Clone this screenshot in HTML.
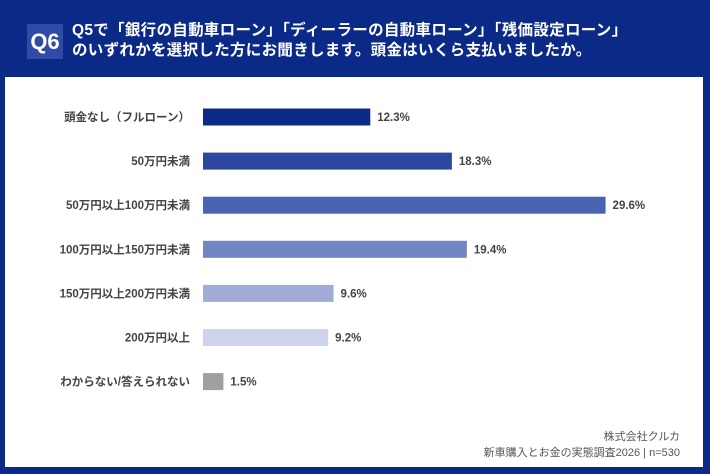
<!DOCTYPE html>
<html><head><meta charset="utf-8"><style>
body{margin:0;width:710px;height:474px;overflow:hidden;background:#0b2a88;font-family:"Liberation Sans","Noto Sans CJK JP",sans-serif;}
#wrap{position:relative;width:710px;height:474px;background:#0b2a88;}
#q{position:absolute;left:27px;top:24px;width:36px;height:35px;background:#2e4ca6;color:#fff;font-weight:bold;font-size:22px;line-height:35px;text-align:center;}
#title{position:absolute;left:72px;top:21px;color:#fff;font-weight:bold;font-size:15.5px;line-height:20px;letter-spacing:0.3px;}
#panel{position:absolute;left:5px;top:77px;width:698px;height:390px;background:#fff;}
svg{position:absolute;left:0;top:0;}
</style></head><body>
<div id="wrap">
<div id="q">Q6</div>
<div id="title">Q5で「銀行の自動車ローン」「ディーラーの自動車ローン」「残価設定ローン」<br>のいずれかを選択した方にお聞きします。頭金はいくら支払いましたか。</div>
<div id="panel"></div>
<svg id="chart" width="710" height="474"></svg>
</div>
<script>
const categories=["頭金なし（フルローン）","50万円未満","50万円以上100万円未満","100万円以上150万円未満","150万円以上200万円未満","200万円以上","わからない/答えられない"];
const values=[12.3,18.3,29.6,19.4,9.6,9.2,1.5];
const colors=["#0b2a86","#2d47a0","#4a63b3","#7284c2","#a1abd8","#cdd3eb","#a0a0a0"];
const x0=203,pxPer=13.6,y0=117,step=44.1,bh=17;
const xs=v=>v*pxPer, ys=i=>y0+i*step;
const svg=document.getElementById('chart');
const NS="http://www.w3.org/2000/svg";
categories.forEach((c,i)=>{
 const cy=ys(i);
 const t=document.createElementNS(NS,'text');
 
 
 t.setAttribute('x',190);t.setAttribute('y',cy+4);t.setAttribute('text-anchor','end');
 t.setAttribute('font-size','11.5');t.setAttribute('font-weight','bold');t.setAttribute('fill','#444');
 t.textContent=c;svg.appendChild(t);
 const r=document.createElementNS(NS,'rect');
 
 
 r.setAttribute('x',x0);r.setAttribute('y',cy-bh/2);r.setAttribute('width',xs(values[i]));r.setAttribute('height',bh);r.setAttribute('fill',colors[i]);
 svg.appendChild(r);
 const v=document.createElementNS(NS,'text');
 
 
 v.setAttribute('x',x0+xs(values[i])+7);v.setAttribute('y',cy+4);
 v.setAttribute('font-size','11.5');v.setAttribute('font-weight','bold');v.setAttribute('fill','#444');
 v.textContent=values[i].toFixed(1)+'%';svg.appendChild(v);
});
[["株式会社クルカ",440],["新車購入とお金の実態調査2026 | n=530",456]].forEach(([s,y])=>{
 const t=document.createElementNS(NS,'text');
 
 
 t.setAttribute('x',680);t.setAttribute('y',y);t.setAttribute('text-anchor','end');
 t.setAttribute('font-size','11');t.setAttribute('fill','#555');t.textContent=s;svg.appendChild(t);
});
</script>
</body></html>
